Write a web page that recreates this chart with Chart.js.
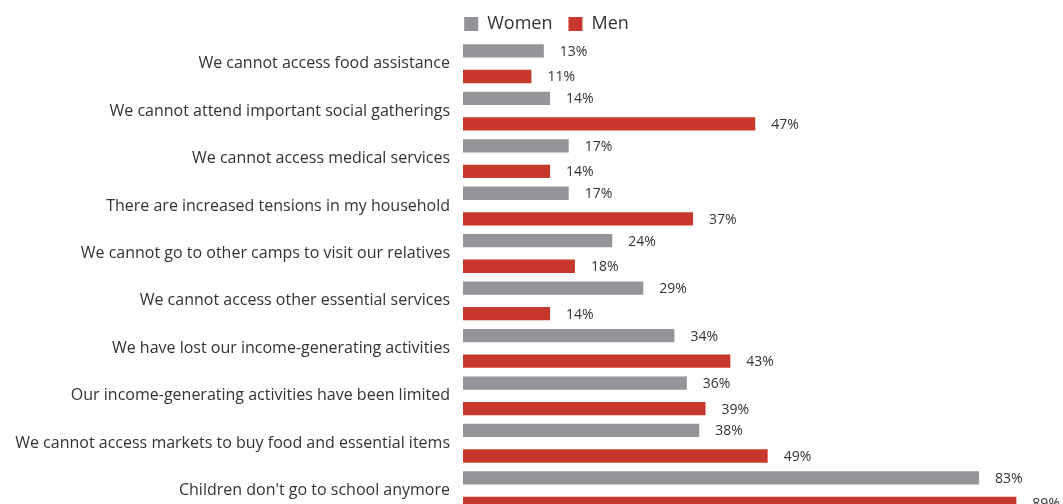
<!DOCTYPE html>
<html>
<head>
<meta charset="utf-8">
<script src="https://cdn.jsdelivr.net/npm/chart.js@4/dist/chart.umd.min.js"></script>
<style>
html,body{margin:0;padding:0;background:#fff;overflow:hidden;}
</style>
</head>
<body>
<canvas id="c" width="1063" height="537"></canvas>
<script>
const categories = [
  "We cannot access food assistance",
  "We cannot attend important social gatherings",
  "We cannot access medical services",
  "There are increased tensions in my household",
  "We cannot go to other camps to visit our relatives",
  "We cannot access other essential services",
  "We have lost our income-generating activities",
  "Our income-generating activities have been limited",
  "We cannot access markets to buy food and essential items",
  "Children don't go to school anymore"
];
const women = [13, 14, 17, 17, 24, 29, 34, 36, 38, 83];
const men = [11, 47, 14, 37, 18, 14, 43, 39, 49, 89];
const seriesNames = ["Women", "Men"];

const FONT = "'Open Sans', sans-serif";
const TEXT = "#333333";

const valueLabels = {
  id: 'valueLabels',
  afterDatasetsDraw(chart) {
    const ctx = chart.ctx;
    ctx.save();
    ctx.font = "14px " + FONT;
    ctx.fillStyle = TEXT;
    ctx.textAlign = 'left';
    ctx.textBaseline = 'middle';
    chart.data.datasets.forEach((ds, i) => {
      const meta = chart.getDatasetMeta(i);
      meta.data.forEach((bar, j) => {
        ctx.fillText(ds.data[j] + '%', bar.x + 16, bar.y + 1);
      });
    });
    ctx.restore();
  }
};

const legendShift = {
  id: 'legendShift',
  afterLayout(chart) {
    const lg = chart.legend;
    if (!lg) return;
    lg.left += 15; lg.right += 15;
    lg.top += 3; lg.bottom += 3;
  }
};

new Chart(document.getElementById('c'), {
  type: 'bar',
  data: {
    labels: categories,
    datasets: [
      { label: seriesNames[0], data: women, backgroundColor: '#939598', categoryPercentage: 1.077, barPercentage: 0.52 },
      { label: seriesNames[1], data: men, backgroundColor: '#C8372B', categoryPercentage: 1.077, barPercentage: 0.52 }
    ]
  },
  options: {
    indexAxis: 'y',
    responsive: false,
    animation: false,
    layout: { padding: { left: 0, top: -4, right: 0, bottom: 0 } },
    plugins: {
      legend: {
        position: 'top',
        labels: {
          boxWidth: 14, boxHeight: 14, padding: 16,
          color: TEXT,
          font: { family: FONT, size: 18 }
        }
      },
      tooltip: { enabled: false }
    },
    scales: {
      x: { display: false, min: 0, max: 96.5 },
      y: {
        grid: { display: false, drawTicks: false },
        border: { display: false },
        ticks: { color: TEXT, padding: 13, font: { family: FONT, size: 16 } },
        afterFit(scale) { scale.width = 463; }
      }
    }
  },
  plugins: [valueLabels, legendShift]
});
</script>
</body>
</html>
